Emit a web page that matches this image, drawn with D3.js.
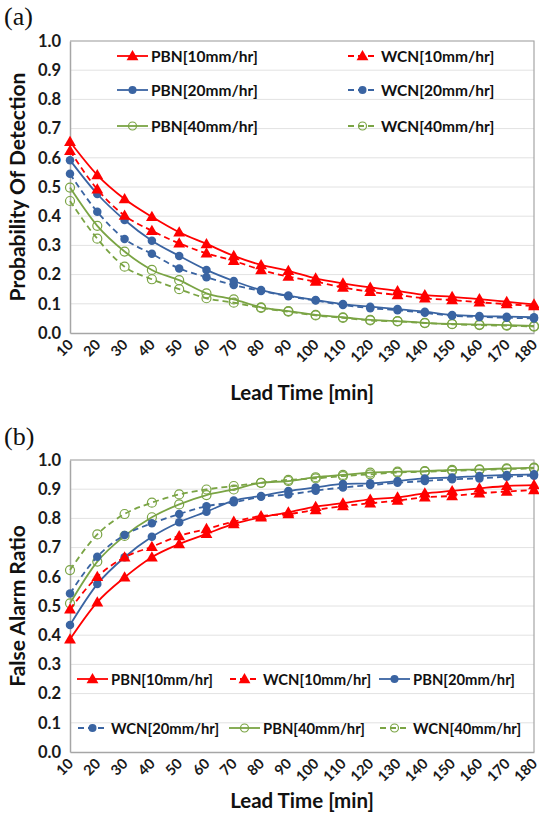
<!DOCTYPE html>
<html><head><meta charset="utf-8">
<script src="https://cdn.jsdelivr.net/npm/d3@7"></script>
<style>body{margin:0;background:#fff}svg{display:block}</style>
</head><body>
<svg id="c" width="539" height="815"></svg>
<script>
const leadTimes = [10,20,30,40,50,60,70,80,90,100,110,120,130,140,150,160,170,180];
const seriesNames = ["PBN[10mm/hr]","WCN[10mm/hr]","PBN[20mm/hr]","WCN[20mm/hr]","PBN[40mm/hr]","WCN[40mm/hr]"];
const yTicks = [0,0.1,0.2,0.3,0.4,0.5,0.6,0.7,0.8,0.9,1.0];

// (a) Probability of Detection
const podPBN10 = [0.655,0.541,0.459,0.398,0.345,0.305,0.264,0.233,0.213,0.187,0.170,0.156,0.144,0.130,0.124,0.116,0.107,0.098];
const podWCN10 = [0.624,0.492,0.402,0.350,0.307,0.273,0.247,0.216,0.193,0.176,0.156,0.141,0.130,0.119,0.113,0.105,0.099,0.092];
const podPBN20 = [0.592,0.476,0.387,0.316,0.264,0.216,0.178,0.147,0.128,0.113,0.099,0.090,0.082,0.073,0.062,0.058,0.056,0.054];
const podWCN20 = [0.545,0.415,0.322,0.271,0.221,0.191,0.164,0.144,0.126,0.111,0.096,0.085,0.078,0.069,0.059,0.055,0.052,0.050];
const podPBN40 = [0.498,0.367,0.279,0.216,0.181,0.136,0.115,0.088,0.075,0.062,0.054,0.045,0.041,0.035,0.031,0.029,0.027,0.024];
const podWCN40 = [0.452,0.323,0.227,0.184,0.150,0.119,0.104,0.086,0.073,0.060,0.052,0.043,0.040,0.034,0.030,0.027,0.025,0.022];

// (b) False Alarm Ratio
const farPBN10 = [0.386,0.513,0.598,0.667,0.712,0.747,0.781,0.804,0.821,0.840,0.852,0.865,0.872,0.886,0.894,0.903,0.911,0.914];
const farWCN10 = [0.489,0.600,0.667,0.703,0.740,0.764,0.789,0.808,0.815,0.829,0.842,0.852,0.861,0.872,0.877,0.886,0.892,0.897];
const farPBN20 = [0.435,0.575,0.667,0.737,0.787,0.823,0.861,0.877,0.894,0.906,0.918,0.920,0.928,0.937,0.940,0.945,0.949,0.951];
const farWCN20 = [0.543,0.669,0.743,0.783,0.815,0.842,0.855,0.874,0.882,0.895,0.906,0.914,0.922,0.928,0.934,0.937,0.943,0.946];
const farPBN40 = [0.509,0.652,0.740,0.804,0.848,0.880,0.899,0.922,0.928,0.941,0.949,0.957,0.960,0.962,0.966,0.968,0.971,0.974];
const farWCN40 = [0.623,0.745,0.815,0.854,0.882,0.899,0.911,0.922,0.932,0.937,0.945,0.951,0.957,0.960,0.963,0.966,0.969,0.971];

const RED="#ff0000", BLUE="#3a64a2", GREEN="#7aa444";
const styles = [
  {color:RED, dash:null, marker:"tri"},
  {color:RED, dash:"6,4", marker:"tri"},
  {color:BLUE, dash:null, marker:"dot"},
  {color:BLUE, dash:"6,4", marker:"dot"},
  {color:GREEN, dash:null, marker:"ring"},
  {color:GREEN, dash:"6,4", marker:"ring"}
];
const FONT = "Lato, 'Open Sans', sans-serif";
const svg = d3.select("#c");

function marker(g, type, color, x, y, size){
  if(type==="tri"){
    g.append("path").attr("d", d3.symbol(d3.symbolTriangle, size*size*0.75)()).attr("transform",`translate(${x},${y+0.8})`).attr("fill",color);
  } else if(type==="dot"){
    g.append("circle").attr("cx",x).attr("cy",y).attr("r",size/2).attr("fill",color);
  } else {
    g.append("circle").attr("cx",x).attr("cy",y).attr("r",size/2).attr("fill","none").attr("stroke",color).attr("stroke-width",1.2);
  }
}

function panel(opts){
  const {top, bottom, data, label, labelY, yTitle, titleY, xTitleY, legend, legendFont} = opts;
  const x = d3.scalePoint().domain(leadTimes).range([70,534]);
  const y = d3.scaleLinear().domain([0,1]).range([bottom, top]);
  const g = svg.append("g");
  // gridlines
  g.append("g").selectAll("line").data(yTicks.slice(1)).join("line")
    .attr("x1",70).attr("x2",534).attr("y1",d=>y(d)).attr("y2",d=>y(d))
    .attr("stroke","#e2e2e2").attr("stroke-width",1);
  // border
  g.append("path").attr("d",`M70,${top}H534V${bottom}`).attr("fill","none").attr("stroke","#a6a6a6").attr("stroke-width",1.2);
  // y axis
  const ya = g.append("g").attr("transform","translate(70,0)").call(d3.axisLeft(y).tickValues(yTicks).tickFormat(d3.format(".1f")).tickSize(0).tickPadding(9));
  ya.select(".domain").attr("stroke","#a6a6a6").attr("stroke-width",1.5);
  ya.selectAll("text").attr("font-family",FONT).attr("font-weight","bold").attr("font-size",16.5).attr("fill","#1a1a1a");
  // x axis
  const xa = g.append("g").attr("transform",`translate(0,${bottom})`).call(d3.axisBottom(x).tickSize(0).tickPadding(0));
  xa.select(".domain").attr("stroke","#a6a6a6").attr("stroke-width",1.5);
  xa.selectAll("text").attr("font-family",FONT).attr("font-weight","bold").attr("font-size",14.5).attr("fill","#1a1a1a")
    .attr("text-anchor","end").attr("dy",null).attr("y",0)
    .attr("transform","translate(1,10) rotate(-45)").attr("dominant-baseline","middle");
  // series
  const line = d3.line().x((d,i)=>x(leadTimes[i])).y(d=>y(d)).curve(d3.curveMonotoneX);
  const order = [5,4,3,2,1,0];
  order.forEach(si=>{
    const s = styles[si];
    g.append("path").attr("d", line(data[si])).attr("fill","none")
      .attr("stroke",s.color).attr("stroke-width",1.8).attr("stroke-dasharray",s.dash);
    const mg = g.append("g");
    data[si].forEach((v,i)=>marker(mg, s.marker, s.color, x(leadTimes[i]), y(v), s.marker==="tri"?9:(s.marker==="dot"?8.5:9)));
  });
  // legend
  legend.forEach(l=>{
    const s = styles[l.i];
    const lg = g.append("g");
    lg.append("line").attr("x1",l.x).attr("x2",l.x+31).attr("y1",l.y).attr("y2",l.y)
      .attr("stroke",s.color).attr("stroke-width",1.8).attr("stroke-dasharray",s.dash? "6,4":null)
      .attr("stroke-dashoffset", s.dash? -1:0);
    marker(lg, s.marker, s.color, l.x+15.5, l.y, s.marker==="tri"?9:8);
    lg.append("text").attr("x",l.x+34).attr("y",l.y).attr("dominant-baseline","central")
      .attr("font-family",FONT).attr("font-weight","bold").attr("font-size",legendFont).attr("fill","#111")
      .text(seriesNames[l.i]);
  });
  // titles
  svg.append("text").attr("x",4).attr("y",labelY).attr("font-family","'Liberation Serif','DejaVu Serif',serif")
    .attr("font-size",26).attr("fill","#111").text(label);
  svg.append("text").attr("transform",`translate(25,${titleY}) rotate(-90)`).attr("text-anchor","middle")
    .attr("font-family",FONT).attr("font-weight","bold").attr("font-size",21).attr("fill","#111").text(yTitle);
  svg.append("text").attr("x",302).attr("y",xTitleY).attr("text-anchor","middle")
    .attr("font-family",FONT).attr("font-weight","bold").attr("font-size",20.5).attr("fill","#111").text("Lead Time [min]");
}

panel({top:41, bottom:333, label:"(a)", labelY:25, yTitle:"Probability Of Detection", titleY:187, xTitleY:400, legendFont:15.5,
  data:[podPBN10,podWCN10,podPBN20,podWCN20,podPBN40,podWCN40],
  legend:[{i:0,x:117,y:56},{i:1,x:347,y:56},{i:2,x:117,y:90},{i:3,x:347,y:90},{i:4,x:117,y:126},{i:5,x:347,y:126}]});
panel({top:460, bottom:752, label:"(b)", labelY:445, yTitle:"False Alarm Ratio", titleY:606, xTitleY:808, legendFont:14.8,
  data:[farPBN10,farWCN10,farPBN20,farWCN20,farPBN40,farWCN40],
  legend:[{i:0,x:77,y:679},{i:1,x:229,y:679},{i:2,x:379,y:679},{i:3,x:77,y:728},{i:4,x:229,y:728},{i:5,x:379,y:728}]});
</script>
</body></html>
